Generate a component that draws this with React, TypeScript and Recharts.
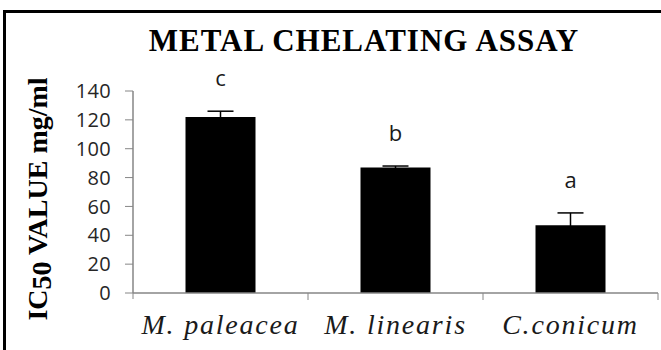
import { BarChart, Bar, Line, XAxis, YAxis, ErrorBar, LabelList } from 'recharts';

const categories = ['M. paleacea', 'M. linearis', 'C.conicum'];
const ic50 = [122, 87, 47];
const sd = [4, 1, 8.5];
const groups = ['c', 'b', 'a'];
const yTicks = [0, 20, 40, 60, 80, 100, 120, 140];

const data = categories.map((name, i) => ({
  name,
  ic50: ic50[i],
  sd: sd[i],
  upper: ic50[i] + sd[i],
  group: groups[i],
}));

const AXIS_GREY = '#868686';
const SERIF = '"Liberation Serif", "Times New Roman", serif';
const SANS = '"Open Sans", "Liberation Sans", sans-serif';

// category name under the bar, with tick marks on the band edges
function CategoryTick(props: any) {
  const { x, y, payload, index } = props;
  const half = payload?.offset ?? 0;
  return (
    <g>
      {index === 0 && (
        <line x1={x - half} x2={x - half} y1={y} y2={y + 6} stroke={AXIS_GREY} />
      )}
      <line x1={x + half} x2={x + half} y1={y} y2={y + 7} stroke={AXIS_GREY} />
      <text
        x={x}
        y={y + 41}
        textAnchor="middle"
        fontFamily={SERIF}
        fontStyle="italic"
        fontSize={28}
        letterSpacing={1.8}
        fill="#1a1a1a"
      >
        {payload.value}
      </text>
    </g>
  );
}

function YTitle() {
  return (
    <text
      x={47}
      y={199}
      transform="rotate(-90, 47, 199)"
      textAnchor="middle"
      fontFamily={SERIF}
      fontWeight="bold"
      fontSize={28}
      fill="#000"
    >
      <tspan>IC</tspan>
      <tspan dy={4}>50</tspan>
      <tspan dy={-4}> VALUE mg/ml</tspan>
    </text>
  );
}

export default function App() {
  return (
    <div
      style={{
        position: 'absolute',
        left: 0,
        top: 0,
        width: 661,
        height: 350,
        overflow: 'hidden',
        background: '#fff',
      }}
    >
      <div
        style={{
          position: 'absolute',
          left: 3,
          top: 10,
          width: 700,
          height: 400,
          border: '3px solid #000',
        }}
      />
      <div style={{ position: 'absolute', left: 0, top: 0 }}>
        <BarChart
          width={661}
          height={350}
          data={data}
          margin={{ top: 91, right: 3, bottom: 17, left: 0 }}
          barCategoryGap="30%"
        >
          <text
            x={364}
            y={51}
            textAnchor="middle"
            fontFamily={SERIF}
            fontWeight="bold"
            fontSize={31}
            letterSpacing={1}
            fill="#000"
          >
            METAL CHELATING ASSAY
          </text>
          <XAxis
            dataKey="name"
            height={40}
            tickLine={false}
            tickSize={0}
            tickMargin={0}
            axisLine={{ stroke: AXIS_GREY, strokeWidth: 1.5 }}
            tick={<CategoryTick />}
            interval={0}
          />
          <YAxis
            width={133}
            domain={[0, 140]}
            ticks={yTicks}
            interval={0}
            tickSize={8}
            tickMargin={14}
            axisLine={{ stroke: AXIS_GREY, strokeWidth: 1.5 }}
            tickLine={{ stroke: AXIS_GREY }}
            tick={{ fontFamily: SANS, fontSize: 20, fill: '#262626', letterSpacing: 0.3 }}
            label={{ content: () => <YTitle /> }}
          />
          <Bar dataKey="ic50" fill="#000" isAnimationActive={false}>
            <ErrorBar
              dataKey="sd"
              direction="y"
              width={13}
              stroke="#000"
              strokeWidth={1.5}
              isAnimationActive={false}
            />
          </Bar>
          <Line
            dataKey="upper"
            stroke="none"
            dot={false}
            activeDot={false}
            isAnimationActive={false}
          >
            <LabelList
              dataKey="group"
              position="top"
              offset={25}
              fontFamily={SANS}
              fontSize={22}
              fill="#1a1a1a"
            />
          </Line>
        </BarChart>
      </div>
    </div>
  );
}
